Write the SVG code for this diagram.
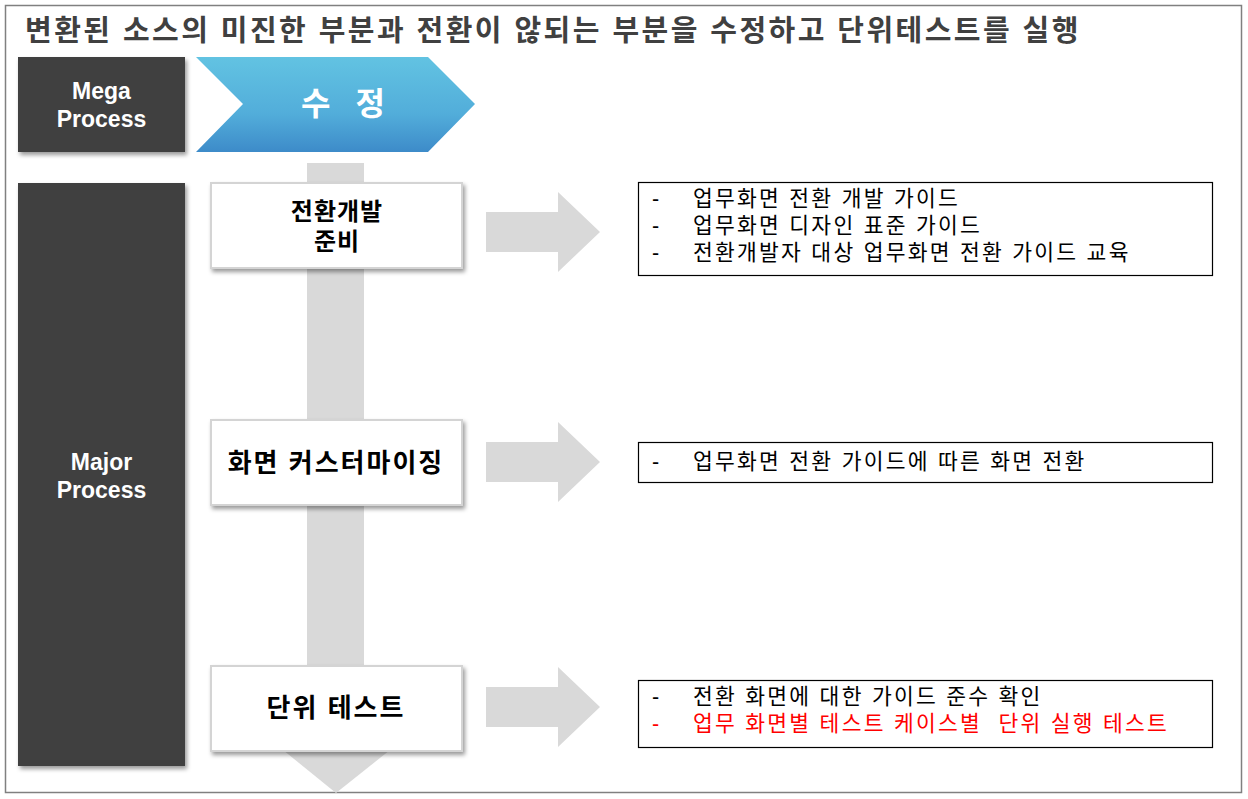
<svg xmlns="http://www.w3.org/2000/svg" width="1248" height="799" viewBox="0 0 1248 799">
<defs>
<linearGradient id="chev" x1="0" y1="0" x2="0" y2="1">
<stop offset="0" stop-color="#62C3E2"/>
<stop offset="0.6" stop-color="#52ADDA"/>
<stop offset="1" stop-color="#3D8BC9"/>
</linearGradient>
<filter id="sh" x="-10%" y="-10%" width="125%" height="130%">
<feDropShadow dx="2" dy="3" stdDeviation="2" flood-color="#000" flood-opacity="0.4"/>
</filter>
<style>
.dark{fill:#404040;filter:url(#sh)}
.lbl{font-family:"Liberation Sans",Arial,sans-serif;font-weight:bold;font-size:23px;fill:#fff;text-anchor:middle}
.node{fill:#fff;stroke:#d4d4d4;stroke-width:2;filter:url(#sh)}
.ko{font-family:"Liberation Sans","Noto Sans CJK KR",sans-serif}
.nt{font-weight:bold;font-size:24px;fill:#000;text-anchor:middle;letter-spacing:1px}
.nt2{font-size:26px;letter-spacing:2px}
.arr{fill:#d9d9d9}
.box{fill:#fff;stroke:#000;stroke-width:1.2}
.bt{font-size:21.5px;fill:#000;letter-spacing:2.25px;white-space:pre}
.red{fill:#ff0000}
</style>
</defs>
<rect x="5.5" y="5.5" width="1236" height="787" fill="#fff" stroke="#808080" stroke-width="1.5"/>
<text class="ko" x="25" y="41" font-weight="bold" font-size="29" fill="#404040" letter-spacing="2.45">변환된 소스의 미진한 부분과 전환이 않되는 부분을 수정하고 단위테스트를 실행</text>

<g id="mega">
<rect class="dark" x="18" y="57" width="167" height="95"/>
<text class="lbl" x="101.5" y="99">Mega</text>
<text class="lbl" x="101.5" y="127">Process</text>
</g>
<g id="chevron">
<polygon points="196,57 428,57 475,104 428,152 196,152 243,104" fill="url(#chev)"/>
<text class="ko" x="347" y="115" font-weight="bold" font-size="32" fill="#fff" text-anchor="middle" letter-spacing="8">수 정</text>
</g>
<g id="major">
<rect class="dark" x="18" y="183" width="167" height="583"/>
<text class="lbl" x="101.5" y="470">Major</text>
<text class="lbl" x="101.5" y="498">Process</text>
</g>

<g id="connectors">
<rect class="arr" x="307" y="163" width="57" height="590"/>
<polygon class="arr" points="283,750 390,750 336,793"/>
<polygon class="arr" points="486,212 558,212 558,192 600,232 558,272 558,252 486,252"/>
<polygon class="arr" points="486,442 558,442 558,422 600,462 558,502 558,482 486,482"/>
<polygon class="arr" points="486,687 558,687 558,667 600,707 558,747 558,727 486,727"/>
</g>

<g id="node1">
<rect class="node" x="211" y="183" width="251" height="85"/>
<text class="ko nt" x="337" y="220">전환개발</text>
<text class="ko nt" x="337" y="250">준비</text>
</g>
<g id="node2">
<rect class="node" x="211" y="420" width="251" height="85"/>
<text class="ko nt nt2" x="336" y="472">화면 커스터마이징</text>
</g>
<g id="node3">
<rect class="node" x="211" y="666" width="251" height="85"/>
<text class="ko nt nt2" x="336" y="717">단위 테스트</text>
</g>

<g id="desc1">
<rect class="box" x="638.5" y="182.5" width="574" height="93"/>
<text class="ko bt" x="652" y="206">-</text><text class="ko bt" x="693" y="206">업무화면 전환 개발 가이드</text>
<text class="ko bt" x="652" y="233">-</text><text class="ko bt" x="693" y="233">업무화면 디자인 표준 가이드</text>
<text class="ko bt" x="652" y="260">-</text><text class="ko bt" x="693" y="260">전환개발자 대상 업무화면 전환 가이드 교육</text>
</g>
<g id="desc2">
<rect class="box" x="638.5" y="442.5" width="574" height="40"/>
<text class="ko bt" x="652" y="469">-</text><text class="ko bt" x="693" y="469">업무화면 전환 가이드에 따른 화면 전환</text>
</g>
<g id="desc3">
<rect class="box" x="638.5" y="680.5" width="574" height="67"/>
<text class="ko bt" x="652" y="704">-</text><text class="ko bt" x="693" y="704">전환 화면에 대한 가이드 준수 확인</text>
<text class="ko bt red" x="652" y="731">-</text><text class="ko bt red" x="693" y="731" xml:space="preserve">업무 화면별 테스트 케이스별  단위 실행 테스트</text>
</g>
</svg>
